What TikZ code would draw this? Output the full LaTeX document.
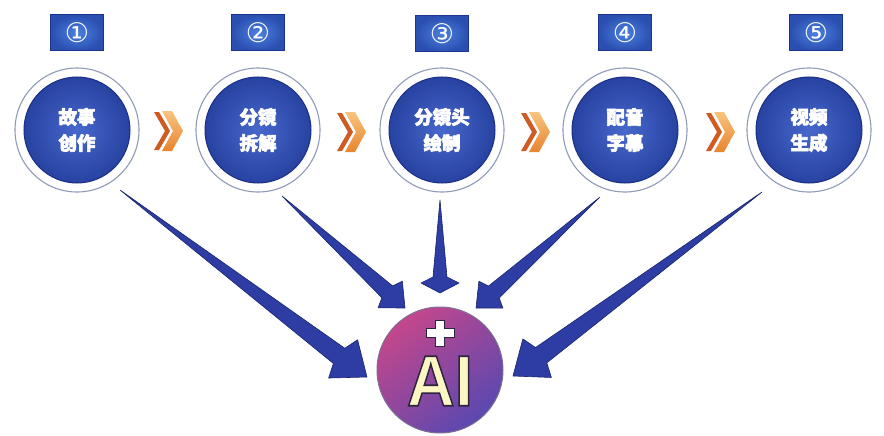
\documentclass[tikz,border=0pt]{standalone}
\usepackage{fontspec}
\setmainfont{Liberation Sans}
\newfontfamily\cjk{Noto Sans CJK SC}
\newfontfamily\symf{DejaVu Sans}
\usetikzlibrary{calc}
\definecolor{ringgray}{HTML}{8F9BB8}
\definecolor{discin}{HTML}{4768CC}
\definecolor{discout}{HTML}{223C9A}
\definecolor{discedge}{HTML}{1B2E86}
\definecolor{boxlight}{HTML}{4C80E0}
\definecolor{boxmid}{HTML}{2A4FB0}
\definecolor{boxdark}{HTML}{1A3590}
\definecolor{arrowblue}{HTML}{2D3DA3}
\definecolor{arrowedge}{HTML}{18256F}
\definecolor{chevdark}{HTML}{CF5A22}
\definecolor{chevlight}{HTML}{F8C47E}
\definecolor{chevmid}{HTML}{E8842F}
\definecolor{aimag}{HTML}{C4478C}
\definecolor{aipurp}{HTML}{5A48B0}
\definecolor{aiedge}{HTML}{7C6F96}
\definecolor{aitext}{HTML}{FBF6C2}
\definecolor{aiout}{HTML}{2E2340}
\newcommand{\chev}[2]{%
  \fill[chevdark] (#1-14,#2-19) -- (#1-9,#2-19) -- (#1+2,#2) -- (#1-9,#2+19) -- (#1-14,#2+19) -- (#1-3,#2) -- cycle;
  \shade[top color=chevlight, bottom color=chevmid] (#1-6,#2-20) -- (#1+4,#2-20) -- (#1+15,#2) -- (#1+4,#2+20) -- (#1-6,#2+20) -- (#1+5,#2) -- cycle;
}
\newcommand{\taper}[6]{%
  \path ($(#2)!#3!(#1)$) coordinate (hb) ($(#2)!#6!(#1)$) coordinate (hj);
  \filldraw[arrowshape] (#1) -- ($(hj)!#5!90:(#2)$) -- ($(hb)!#4!90:(#2)$) -- (#2)
     -- ($(hb)!#4!-90:(#2)$) -- ($(hj)!#5!-90:(#2)$) -- cycle;
}
\newcommand{\outlined}[1]{\special{pdf:literal direct 2 Tr 1.6 w 0.18 0.14 0.25 RG}#1\special{pdf:literal direct 0 Tr}}
\newcommand{\heavy}[1]{\special{pdf:literal direct 2 Tr 0.6 w 1 1 1 RG}#1\special{pdf:literal direct 0 Tr}}
\begin{document}
\begin{tikzpicture}[x=1pt,y=-1pt,
  stagecircle/.style={circle, minimum size=124pt, inner sep=0pt, fill=white,
    draw=ringgray, line width=1.1pt, text=white, align=center,
    font=\cjk\bfseries\fontsize{18.5}{26}\selectfont,
    path picture={
      \shade[inner color=discin, outer color=discout] (path picture bounding box.center) circle (53pt);
      \draw[discedge, line width=1pt] (path picture bounding box.center) circle (53pt);
    }},
  numbox/.style={rectangle, minimum width=53pt, minimum height=36pt, inner sep=0pt,
    draw=boxdark, line width=1pt, inner color=boxlight, outer color=boxmid,
    text=white, font=\symf\fontsize{27}{27}\selectfont},
  arrowshape/.style={fill=arrowblue, draw=arrowedge, line width=0.6pt, line join=round},
  aicircle/.style={circle, minimum size=126pt, inner sep=0pt, draw=aiedge, line width=1pt,
    top color=aimag, bottom color=aipurp, shading angle=40},
]
\fill[white] (0,0) rectangle (884,436);
\useasboundingbox (0,0) rectangle (884,436);

% number boxes
\node[numbox] (b1) at (77,33) {①};
\node[numbox] (b2) at (258,33) {②};
\node[numbox] (b3) at (442,34) {③};
\node[numbox] (b4) at (625,33) {④};
\node[numbox] (b5) at (816,33) {⑤};

% AI circle
\node[aicircle] (ai) at (440,370) {};

% connector start and tip coordinates
\coordinate (s1) at ($(77,130)+(43,60)$);
\coordinate (s2) at ($(258,130)+(24,66)$);
\coordinate (s3) at ($(442,130)+(-2,70)$);
\coordinate (s4) at ($(625,130)+(-25,67)$);
\coordinate (s5) at ($(809,130)+(-47,62)$);
\coordinate (t1) at ($(ai)+(-73,7)$);
\coordinate (t2) at ($(ai)+(-35,-62)$);
\coordinate (t3) at ($(ai)+(0,-77)$);
\coordinate (t4) at ($(ai)+(36,-62)$);
\coordinate (t5) at ($(ai)+(73,6)$);

% tapered arrows
\taper{s1}{t1}{30pt}{24pt}{9.5pt}{35pt}
\taper{s2}{t2}{20pt}{18pt}{8pt}{24pt}
\taper{s3}{t3}{10pt}{19pt}{7pt}{16pt}
\taper{s4}{t4}{20pt}{18pt}{8pt}{24pt}
\taper{s5}{t5}{30pt}{24pt}{9.5pt}{35pt}

% stage circles
\node[stagecircle] (c1) at (77,130) {\heavy{故事}\\\heavy{创作}};
\node[stagecircle] (c2) at (258,130) {\heavy{分镜}\\\heavy{拆解}};
\node[stagecircle] (c3) at (442,130) {\heavy{分镜头}\\\heavy{绘制}};
\node[stagecircle] (c4) at (625,130) {\heavy{配音}\\\heavy{字幕}};
\node[stagecircle] (c5) at (809,130) {\heavy{视频}\\\heavy{生成}};

% chevrons
\chev{168}{131}
\chev{351}{132}
\chev{535}{132}
\chev{720}{132}

% plus sign
\coordinate (pc) at ($(ai)+(0,-37)$);
\filldraw[fill=white, draw=aiout, line width=1pt]
  ($(pc)+(-4.5,-13)$) -- ($(pc)+(4.5,-13)$) -- ($(pc)+(4.5,-4.5)$) -- ($(pc)+(14,-4.5)$)
  -- ($(pc)+(14,4.5)$) -- ($(pc)+(4.5,4.5)$) -- ($(pc)+(4.5,13)$) -- ($(pc)+(-4.5,13)$)
  -- ($(pc)+(-4.5,4.5)$) -- ($(pc)+(-14,4.5)$) -- ($(pc)+(-14,-4.5)$) -- ($(pc)+(-4.5,-4.5)$) -- cycle;

% AI text
\node[text=aitext, font=\bfseries\fontsize{72}{72}\selectfont, inner sep=0pt] (aitxt) at ($(ai)+(0,11)$) {\outlined{\scalebox{0.92}[1]{AI}}};
\end{tikzpicture}
\end{document}
